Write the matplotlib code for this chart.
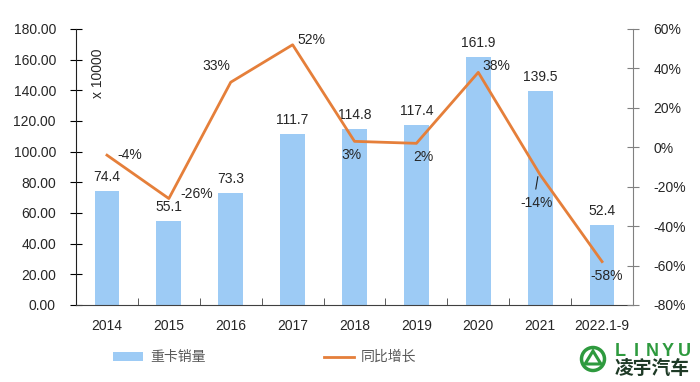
import matplotlib
matplotlib.use('Agg')
import matplotlib.pyplot as plt
import numpy as np
from matplotlib.patches import Ellipse, Polygon

plt.rcParams['font.family'] = ['Liberation Sans', 'Noto Sans CJK SC', 'DejaVu Sans']

# data
years = ['2014', '2015', '2016', '2017', '2018', '2019', '2020', '2021', '2022.1-9']
sales = [74.4, 55.1, 73.3, 111.7, 114.8, 117.4, 161.9, 139.5, 52.4]
growth = [-4, -26, 33, 52, 3, 2, 38, -14, -58]
growth_labels = ['-4%', '-26%', '33%', '52%', '3%', '2%', '38%', '-14%', '-58%']
# label offsets (pixels) from each line point
pct_off = [(23, 0), (28, 5), (-14, 16), (19, 5), (-3, -14), (7, -14), (18, 6), (-4, -28), (5, -14)]

BAR_C = '#9DCBF5'
LINE_C = '#E57F3A'
TXT_C = '#262626'

fig = plt.figure(figsize=(7, 3.82), dpi=100)
ax = fig.add_axes([0.1086, 0.2016, 0.7957, 0.7225])
ax2 = ax.twinx()

x = np.arange(len(years))
ax.bar(x, sales, width=0.4, color=BAR_C, label='重卡销量', zorder=2)
ax2.plot(x, growth, color=LINE_C, lw=2, label='同比增长', zorder=3)

ax.set_xlim(-0.5, len(years) - 0.5)
ax.set_ylim(0, 180)
ax.set_yticks(np.arange(0, 181, 20))
ax.set_yticklabels(['%.2f' % v for v in np.arange(0, 181, 20)])
ax2.set_ylim(-80, 60)
ax2.set_yticks(np.arange(-80, 61, 20))
ax2.set_yticklabels(['%d%%' % v for v in np.arange(-80, 61, 20)])

ax.set_xticks(x)
ax.set_xticklabels(years)
ax.set_xticks(np.arange(0.5, len(years) - 1), minor=True)
ax.tick_params(axis='x', which='major', length=0, pad=10, labelsize=10, labelcolor=TXT_C)
ax.tick_params(axis='x', which='minor', direction='in', length=5, color='#404040')
ax.tick_params(axis='y', direction='inout', length=9, labelsize=10, labelcolor=TXT_C, pad=10)
ax2.tick_params(axis='y', direction='inout', length=9, labelsize=10, labelcolor=TXT_C, color='#808080', pad=10)

for s in ['top']:
    ax.spines[s].set_visible(False)
    ax2.spines[s].set_visible(False)
ax2.spines['left'].set_visible(False)
ax2.spines['bottom'].set_visible(False)
ax.spines['right'].set_visible(False)
ax.spines['left'].set_color('#202020')
ax.spines['bottom'].set_color('#404040')
ax2.spines['right'].set_color('#808080')

ax.text(0.04, 0.93, 'x 10000', transform=ax.transAxes, rotation=90,
        ha='center', va='top', fontsize=10, color=TXT_C)

# bar value labels
for xi, v in zip(x, sales):
    ax.annotate('%.1f' % v, (xi, v), xytext=(0, 7), textcoords='offset pixels',
                ha='center', va='bottom', fontsize=10, color=TXT_C)

# growth labels
for xi, g, lab, (dx, dy) in zip(x, growth, growth_labels, pct_off):
    ax2.annotate(lab, (xi, g), xytext=(dx, dy), textcoords='offset pixels',
                 ha='center', va='center', fontsize=10, color=TXT_C, zorder=4)
# leader line for -14%
ax2.annotate('', (x[7] - 0.03, growth[7] + 0.5), xytext=(-3, -18), textcoords='offset pixels',
             arrowprops=dict(arrowstyle='-', color='#202020', lw=0.8))

ax.set_zorder(1)
ax2.set_zorder(2)
ax.patch.set_visible(False)

h1, l1 = ax.get_legend_handles_labels()
h2, l2 = ax2.get_legend_handles_labels()
leg = fig.legend(h1 + h2, l1 + l2, loc='center', bbox_to_anchor=(0.378, 0.065), ncol=2,
                 frameon=False, fontsize=10, handlelength=2.2, handleheight=0.6,
                 columnspacing=8.5, handletextpad=0.5)
for t in leg.get_texts():
    t.set_color('#595959')

# logo
GREEN = '#2E9A3E'
cx, cy = 593 / 700, 1 - 359 / 382
fig.patches.append(Ellipse((cx, cy), 23 / 700, 23 / 382, transform=fig.transFigure,
                           fill=False, ec=GREEN, lw=2.5))
fig.patches.append(Polygon([(cx - 8 / 700, cy - 5 / 382), (cx + 8 / 700, cy - 5 / 382),
                            (cx, cy + 8 / 382)], closed=True, transform=fig.transFigure,
                           fill=False, ec=GREEN, lw=2.2))
for ch, px in zip('LINYU', np.linspace(620, 684, 5)):
    fig.text(px / 700, 1 - 351 / 382, ch, ha='center', va='center', fontsize=13,
             fontweight='bold', color=GREEN)
fig.text(652 / 700, 1 - 368 / 382, '凌宇汽车', ha='center', va='center', fontsize=13.5,
         fontweight='bold', color='#1E3A26', family=['Noto Sans CJK SC', 'DejaVu Sans'])

fig.savefig('out.png', dpi=100)
